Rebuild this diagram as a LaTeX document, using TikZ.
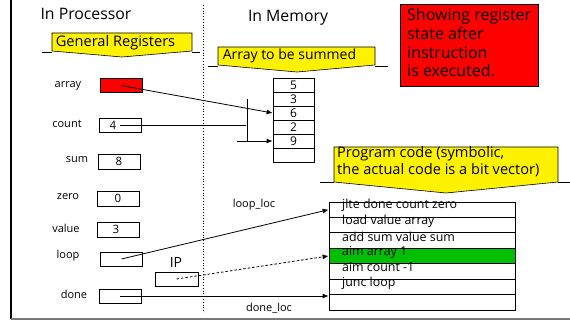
\documentclass[tikz,border=0pt]{standalone}
\usepackage{fontspec}
\setmainfont{Open Sans}
\usetikzlibrary{arrows.meta}
\definecolor{codegreen}{RGB}{0,190,0}
\definecolor{framegray}{RGB}{120,120,120}
\begin{document}
\begin{tikzpicture}[x=1pt,y=-1pt,
  reg/.style={draw,line width=0.8pt,minimum width=42pt,minimum height=14pt,inner sep=0pt,font=\fontsize{11.5}{13}\selectfont},
  lbl/.style={inner sep=0pt,font=\fontsize{11}{12}\selectfont},
  cell/.style={draw,line width=0.8pt,minimum width=41pt,minimum height=14pt,inner sep=0pt,font=\fontsize{12}{13}\selectfont},
  prow/.style={draw,line width=0.8pt,minimum width=186pt,minimum height=15.43pt,inner sep=0pt},
  ptxt/.style={anchor=west,inner sep=0pt,font=\fontsize{12.4}{14}\selectfont},
  ribbon/.style={draw,line width=0.6pt,fill=yellow},
  title/.style={inner sep=0pt,font=\fontsize{15.8}{18}\selectfont},
  rtxt/.style={inner sep=0pt,font=\fontsize{14.3}{16}\selectfont},
  arr/.style={line width=0.8pt,-{Latex[length=6pt,width=5pt]}}
]
\useasboundingbox (0,0) rectangle (570,320);
% frame
\draw[line width=1.2pt] (11,0) -- (11,319);
\draw[framegray,line width=2pt] (11,319) -- (570,319);
% divider
\draw[line width=0.8pt,dotted] (203,5) -- (203,313);
% titles
\node[title] (tp) at (86,14) {In Processor};
\node[title] (tm) at (288,18) {In Memory};
% ribbons
\draw[line width=0.8pt] (42,52) -- (52,52) (192,52) -- (200,52);
\draw[ribbon] (52,33) -- (192,33) -- (192,51) -- (122,57) -- (52,51) -- cycle;
\node[rtxt,font=\fontsize{14.6}{16}\selectfont] (gr) at (115.5,43) {General Registers};
\draw[line width=0.8pt] (208,66) -- (218,66) (375,66) -- (388,66);
\draw[ribbon] (218,47) -- (375,47) -- (375,65) -- (297,72) -- (218,65) -- cycle;
\node[rtxt,font=\fontsize{14}{16}\selectfont] (ab) at (289.5,56) {Array to be summed};
\draw[line width=0.8pt] (320,182) -- (334,182) (558,182) -- (570,182);
\draw[ribbon] (334,147) -- (558,147) -- (558,182) -- (446,193) -- (334,182) -- cycle;
\node[rtxt,anchor=north west,align=left,font=\fontsize{14.6}{17.5}\selectfont] (pc) at (337,146) {Program code (symbolic,\\the actual code is a bit vector)};
% red note
\node[draw,line width=0.8pt,fill=red,minimum width=138pt,minimum height=82pt,anchor=north west] (note) at (400,4) {};
\node[anchor=north west,inner sep=0pt,align=left,font=\fontsize{16}{18.7}\selectfont] (notetxt) at (407,8.5) {Showing register\\state after\\instruction\\is executed.};
% registers
\node[reg,fill=red] (array) at (121,85.5) {};
\node[reg] (count) at (120,125) {\hspace*{-14pt}4};
\node[reg,minimum height=15pt] (sum) at (119,161.5) {8};
\node[reg,minimum height=15pt] (zero) at (118,198.5) {0};
\node[reg,minimum height=15pt] (value) at (118.5,229.5) {\hspace*{-5pt}3};
\node[reg] (loop) at (121.5,259) {};
\node[reg,minimum width=43pt] (ip) at (176.5,279) {};
\node[reg] (done) at (120,296) {};
\node[lbl] (larray) at (68,86) {array};
\node[lbl] (lcount) at (67,124) {count};
\node[lbl] (lsum) at (77,160) {sum};
\node[lbl] (lzero) at (68,197) {zero};
\node[lbl] (lvalue) at (66,228) {value};
\node[lbl] (lloop) at (68,256) {loop};
\node[lbl] (ldone) at (74,294) {done};
\node[title,font=\fontsize{14}{15}\selectfont] (lip) at (176,263) {IP};
% memory array
\node[cell] (m1) at (293.5,85) {5};
\node[cell] (m2) at (293.5,99) {3};
\node[cell] (m3) at (293.5,113) {6};
\node[cell] (m4) at (293.5,127) {2};
\node[cell] (m5) at (293.5,141) {9};
\node[cell] (m6) at (293.5,155) {};
% program code
\node[prow] (p1) at (422,209.7) {};
\node[prow] (p2) at (422,225.1) {};
\node[prow] (p3) at (422,240.6) {};
\node[prow,fill=codegreen] (p4) at (422,256.0) {};
\node[prow] (p5) at (422,271.4) {};
\node[prow] (p6) at (422,286.9) {};
\node[prow] (p7) at (422,302.3) {};
\node[ptxt] (t1) at (342,205.5) {jlte done count zero};
\node[ptxt] (t2) at (342,221) {load value array};
\node[ptxt] (t3) at (342,236.5) {add sum value sum};
\node[ptxt] (t4) at (342,252) {aim array 1};
\node[ptxt] (t5) at (342,267.5) {aim count -1};
\node[ptxt] (t6) at (342,283) {junc loop};
% connectors
\draw[arr] (array.center) -- (m3.west);
\coordinate (cj) at (246,125);
\coordinate (bt) at (247,99);
\coordinate (bb) at (247,141);
\coordinate (cs) at (237,141);
\draw[line width=0.8pt] (count.center) -- (cj);
\draw[line width=0.8pt] (bt) -- (bb);
\draw[arr] (cs) -- (m5.west);
\draw[arr] (loop.center) -- (p1.west);
\draw[arr,dashed,dash pattern=on 2.5pt off 2pt] (ip.center) -- (p4.west);
\draw[arr] (done.center) -- (done.center -| p7.west);
\node[lbl] (ll) at (254,205) {loop\_loc};
\node[lbl] (dl) at (269,308) {done\_loc};
\end{tikzpicture}
\end{document}
